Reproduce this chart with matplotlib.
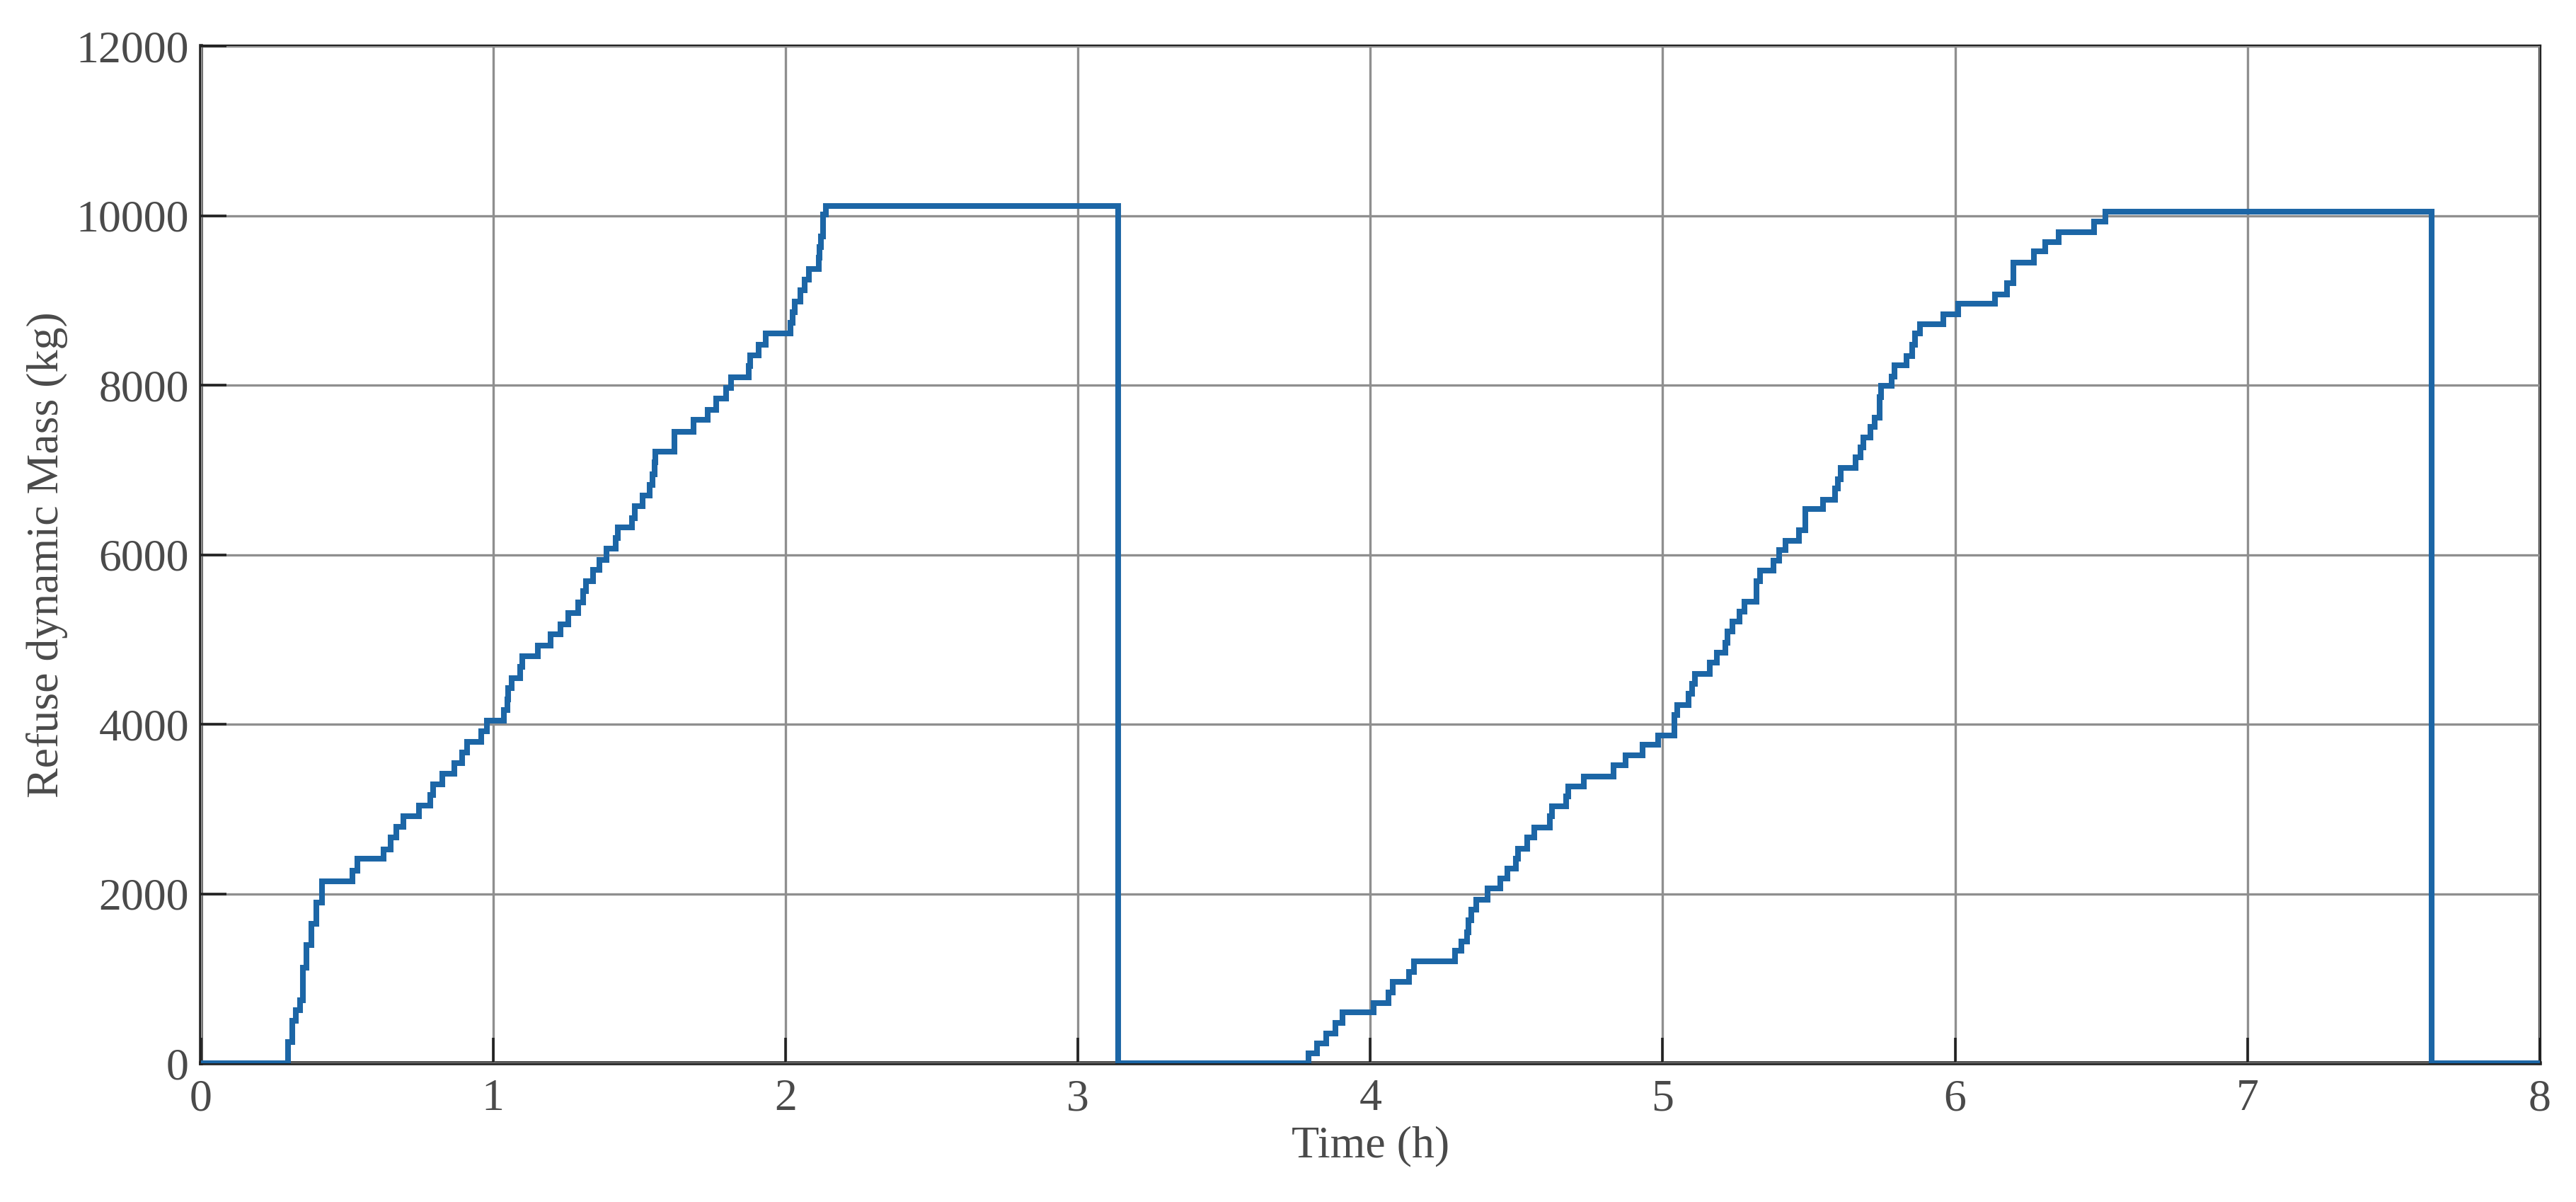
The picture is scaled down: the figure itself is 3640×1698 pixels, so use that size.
import matplotlib
matplotlib.use("Agg")
import matplotlib.pyplot as plt

# step times (h) and refuse mass after each step (kg)
step_time = [
    0.0, 0.298, 0.314, 0.326, 0.340, 0.350, 0.362, 0.379, 0.395, 0.415,
    0.520, 0.536, 0.625, 0.649, 0.669, 0.693, 0.746, 0.786, 0.794, 0.826,
    0.867, 0.895, 0.911, 0.959, 0.980, 1.036, 1.048, 1.052, 1.064, 1.093,
    1.100, 1.153, 1.197, 1.230, 1.258, 1.290, 1.308, 1.318, 1.343, 1.363,
    1.387, 1.420, 1.427, 1.476, 1.484, 1.512, 1.536, 1.544, 1.552, 1.556,
    1.621, 1.685, 1.734, 1.762, 1.798, 1.814, 1.875, 1.879, 1.907, 1.932,
    2.016, 2.024, 2.032, 2.052, 2.065, 2.081, 2.113, 2.117, 2.121, 2.129,
    2.137, 3.137,
    3.789, 3.817, 3.849, 3.881, 3.905, 4.011, 4.062, 4.076, 4.132, 4.150,
    4.289, 4.312, 4.331, 4.335, 4.345, 4.363, 4.400, 4.444, 4.468, 4.497,
    4.505, 4.537, 4.561, 4.613, 4.621, 4.670, 4.678, 4.730, 4.831, 4.872,
    4.932, 4.984, 5.041, 5.049, 5.089, 5.101, 5.109, 5.162, 5.186, 5.214,
    5.222, 5.238, 5.263, 5.279, 5.320, 5.333, 5.380, 5.398, 5.419, 5.467,
    5.487, 5.548, 5.589, 5.598, 5.608, 5.659, 5.677, 5.686, 5.710, 5.724,
    5.742, 5.747, 5.784, 5.793, 5.835, 5.853, 5.862, 5.881, 5.960, 6.011,
    6.136, 6.177, 6.200, 6.270, 6.307, 6.353, 6.474, 6.515, 7.630, 8.0,
]
step_mass = [
    0, 250, 500, 630, 740, 1130, 1395, 1645, 1896, 2146,
    2271, 2411, 2522, 2661, 2787, 2912, 3037, 3162, 3288, 3413,
    3538, 3663, 3789, 3914, 4039, 4165, 4296, 4428, 4545, 4676,
    4799, 4925, 5057, 5180, 5315, 5438, 5570, 5687, 5819, 5936,
    6074, 6200, 6323, 6433, 6574, 6697, 6823, 6948, 7087, 7213,
    7449, 7588, 7711, 7839, 7967, 8094, 8222, 8350, 8478, 8606,
    8733, 8861, 8989, 9117, 9245, 9373, 9501, 9628, 9756, 10011,
    10110, 0,
    114, 234, 351, 476, 601, 713, 838, 963, 1080, 1200,
    1325, 1436, 1548, 1687, 1813, 1930, 2062, 2179, 2296, 2413,
    2530, 2662, 2779, 2911, 3029, 3146, 3263, 3380, 3512, 3629,
    3755, 3863, 4112, 4230, 4362, 4479, 4596, 4728, 4845, 4962,
    5093, 5211, 5328, 5445, 5690, 5810, 5930, 6052, 6167, 6290,
    6537, 6649, 6779, 6891, 7022, 7145, 7265, 7383, 7507, 7619,
    7861, 7991, 8103, 8233, 8345, 8476, 8606, 8718, 8837, 8960,
    9072, 9203, 9445, 9575, 9687, 9806, 9930, 10048, 0, 0,
]

x_ticks = [0, 1, 2, 3, 4, 5, 6, 7, 8]
y_ticks = [0, 2000, 4000, 6000, 8000, 10000, 12000]

plt.rcParams['font.family'] = ['Liberation Serif', 'DejaVu Serif']
txt_col = '#4a4a4a'

fig = plt.figure(figsize=(18.2, 8.49), dpi=200)
ax = fig.add_axes([0.0779, 0.1154, 0.9081, 0.8463])

ax.step(step_time, step_mass, where='post', color='#1c66a6', lw=2.9,
        solid_joinstyle='miter', zorder=3)

ax.set_xlim(0, 8)
ax.set_ylim(0, 12000)
ax.set_xticks(x_ticks)
ax.set_yticks(y_ticks)
ax.grid(True, color='#8f8f8f', lw=1.2)
ax.set_axisbelow(False)

ax.tick_params(direction='in', length=13, width=1.3, color='#222222',
               labelsize=23, labelcolor=txt_col, top=False, right=False)
ax.tick_params(axis='x', pad=8)
ax.tick_params(axis='y', pad=6)

for side in ['left', 'bottom']:
    ax.spines[side].set_linewidth(2.0)
    ax.spines[side].set_color('#222222')
for side in ['top', 'right']:
    ax.spines[side].set_linewidth(1.5)
    ax.spines[side].set_color('#222222')

ax.set_xlabel('Time (h)', fontsize=23, color=txt_col, labelpad=3)
ax.set_ylabel('Refuse dynamic Mass (kg)', fontsize=23, color=txt_col, labelpad=4)

fig.savefig('out.png', dpi=200)
